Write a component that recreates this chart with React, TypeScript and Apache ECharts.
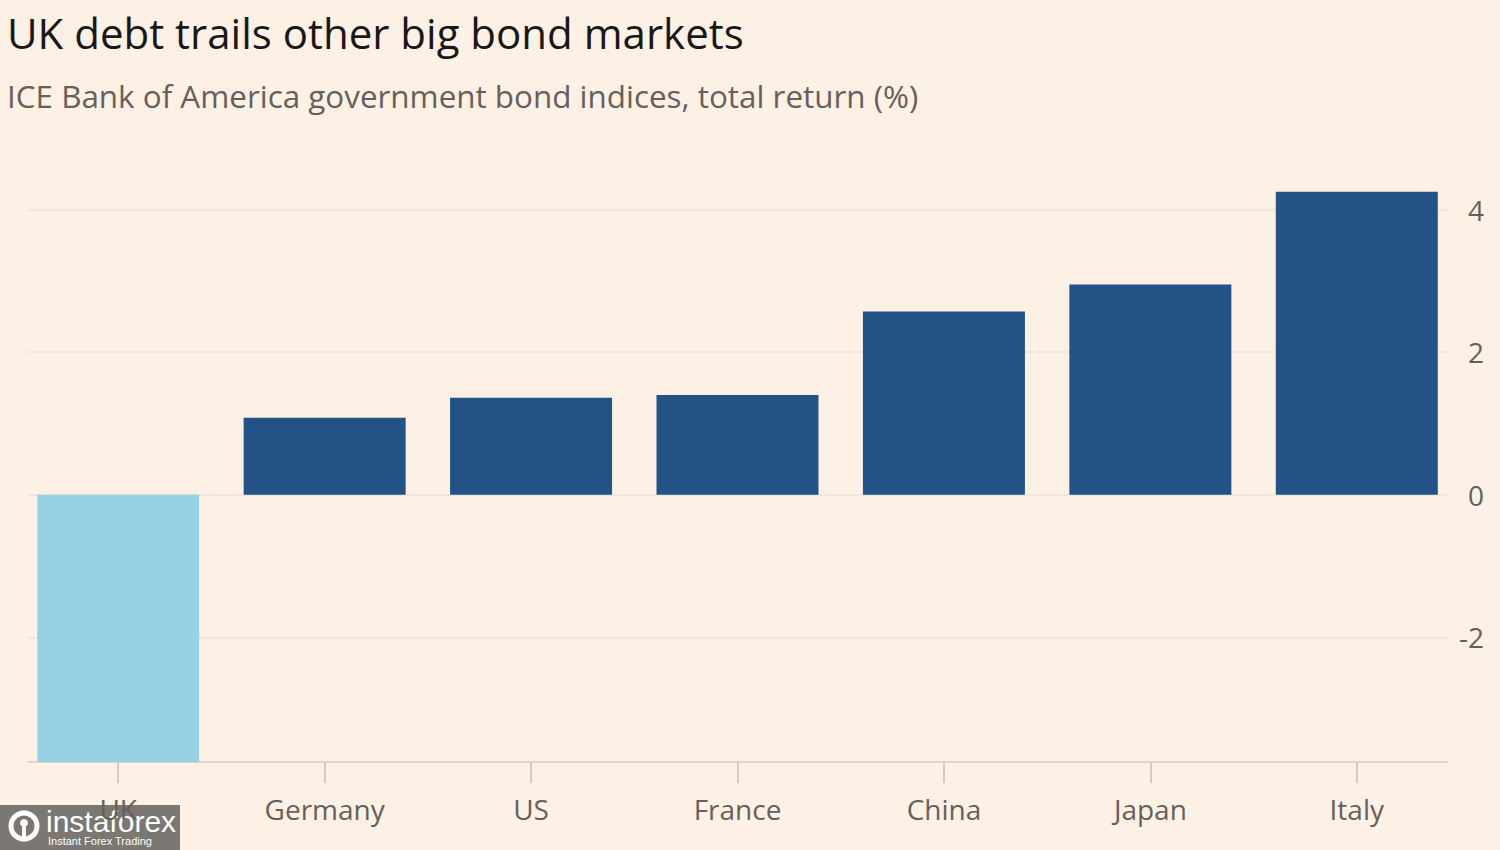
import React, { useEffect, useRef } from "react";
import * as echarts from "echarts";

const categories = ["UK", "Germany", "US", "France", "China", "Japan", "Italy"];
const returns = [-3.75, 1.08, 1.36, 1.4, 2.57, 2.95, 4.25];
const highlighted = ["UK"];
const yMin = -3.75;
const yMax = 4.5;
const titleText = "UK debt trails other big bond markets";
const subtitleText = "ICE Bank of America government bond indices, total return (%)";

const BG = "#FDF1E6";
const BAR = "#235386";
const BAR_HI = "#97D1E4";
const GRID = "#ECE2D8";
const AXIS = "#D3CBC3";
const LABEL = "#66605C";
const FONT = "'Open Sans', sans-serif";

export default function App() {
  const ref = useRef<HTMLDivElement>(null);
  useEffect(() => {
    if (!ref.current) return;
    const chart = echarts.init(ref.current, undefined, { renderer: "svg" });
    chart.setOption({
      animation: false,
      backgroundColor: BG,
      textStyle: { fontFamily: FONT },
      title: [
        {
          text: titleText,
          left: 7,
          top: 11,
          padding: 0,
          textStyle: { fontFamily: FONT, fontSize: 42, fontWeight: "normal", color: "#1A1817" },
        },
        {
          text: subtitleText,
          left: 7,
          top: 80,
          padding: 0,
          textStyle: { fontFamily: FONT, fontSize: 31.4, fontWeight: "normal", color: LABEL },
        },
      ],
      grid: [
        { left: 15, right: 40, top: 174, bottom: 88 },
        { left: 28, right: 53, top: 174, bottom: 88 },
      ],
      xAxis: [
        {
          type: "category",
          gridIndex: 0,
          data: categories,
          axisLine: { show: false, onZero: false },
          axisTick: { show: true, alignWithLabel: true, length: 21, lineStyle: { color: AXIS, width: 2 } },
          axisLabel: { fontSize: 28, color: LABEL, margin: 33, fontFamily: FONT },
        },
        {
          type: "category",
          gridIndex: 1,
          data: categories,
          axisLine: { show: true, onZero: false, lineStyle: { color: AXIS, width: 1.5 } },
          axisTick: { show: false },
          axisLabel: { show: false },
        },
      ],
      yAxis: [
        { type: "value", gridIndex: 0, min: yMin, max: yMax, show: false, splitLine: { show: false } },
        {
          type: "value",
          gridIndex: 1,
          position: "right",
          min: yMin,
          max: yMax,
          splitNumber: 5,
          axisLine: { show: false },
          axisTick: { show: false },
          axisLabel: {
            showMinLabel: false,
            showMaxLabel: false,
            fontSize: 28,
            color: LABEL,
            align: "right",
            margin: 37,
            fontFamily: FONT,
          },
          splitLine: {
            show: true,
            lineStyle: { color: ["rgba(0,0,0,0)", GRID, GRID, GRID, GRID, "rgba(0,0,0,0)"], width: 1.5 },
          },
        },
      ],
      series: [
        {
          type: "bar",
          xAxisIndex: 0,
          yAxisIndex: 0,
          barWidth: 162,
          data: returns.map((v, i) => ({
            value: v,
            itemStyle: { color: highlighted.includes(categories[i]) ? BAR_HI : BAR },
          })),
        },
      ],
      graphic: [
        {
          type: "group",
          z: 100,
          children: [
            { type: "rect", shape: { x: 0, y: 805, width: 180, height: 45 }, style: { fill: "rgba(112,108,104,0.92)" } },
            { type: "circle", shape: { cx: 24, cy: 826, r: 13 }, style: { fill: "none", stroke: "#FFFFFF", lineWidth: 5 } },
            { type: "circle", shape: { cx: 24, cy: 823, r: 4 }, style: { fill: "#FFFFFF" } },
            { type: "rect", shape: { x: 22, y: 827, width: 4, height: 14 }, style: { fill: "#FFFFFF" } },
            {
              type: "text",
              x: 46,
              y: 806,
              style: { text: "instaforex", fill: "#FFFFFF", fontSize: 30, fontFamily: "'Liberation Sans', Arial, sans-serif" },
            },
            {
              type: "text",
              x: 48,
              y: 835,
              style: { text: "Instant Forex Trading", fill: "#FFFFFF", fontSize: 11, fontFamily: "'Liberation Sans', Arial, sans-serif" },
            },
          ],
        },
      ],
    });
    return () => chart.dispose();
  }, []);
  return (
    <div
      ref={ref}
      style={{ position: "fixed", left: 0, top: 0, width: 1500, height: 850 }}
    />
  );
}
